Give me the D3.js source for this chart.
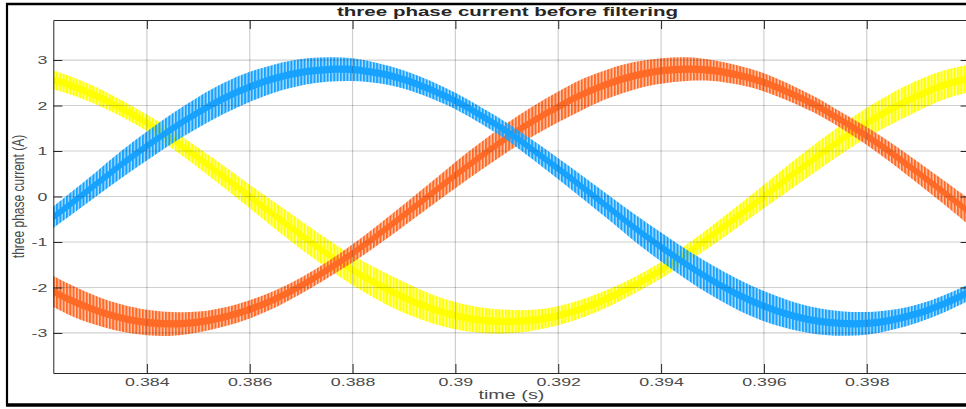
<!DOCTYPE html>
<html><head><meta charset="utf-8">
<script src="https://cdn.jsdelivr.net/npm/d3@7"></script>
<style>html,body{margin:0;padding:0;background:#fff;} svg{display:block;}</style>
</head><body>
<svg id="chart" width="966" height="409"></svg>
<script>
// ---- data ----
const timeS = [0.3820,0.3825,0.3830,0.3835,0.3840,0.3845,0.3850,0.3855,0.3860,0.3865,
  0.3870,0.3875,0.3880,0.3885,0.3890,0.3895,0.3900,0.3905,0.3910,0.3915,
  0.3920,0.3925,0.3930,0.3935,0.3940,0.3945,0.3950,0.3955,0.3960,0.3965,
  0.3970,0.3975,0.3980,0.3985,0.3990,0.3995,0.4000];
const phaseYellow = [2.62,2.45,2.22,1.94,1.62,1.25,0.85,0.43,0.00,-0.43,
  -0.85,-1.25,-1.62,-1.94,-2.22,-2.45,-2.62,-2.72,-2.75,-2.72,
  -2.62,-2.45,-2.22,-1.94,-1.62,-1.25,-0.85,-0.43,0.00,0.43,
  0.85,1.25,1.62,1.94,2.22,2.45,2.60];
const phaseBlue = [-0.61,-0.18,0.26,0.70,1.11,1.50,1.85,2.16,2.41,2.60,
  2.73,2.79,2.79,2.71,2.57,2.36,2.10,1.78,1.43,1.03,
  0.61,0.18,-0.26,-0.70,-1.11,-1.50,-1.85,-2.16,-2.41,-2.60,
  -2.73,-2.79,-2.79,-2.71,-2.57,-2.36,-2.10];
const phaseOrange = [-1.98,-2.27,-2.50,-2.67,-2.77,-2.80,-2.76,-2.65,-2.48,-2.25,
  -1.96,-1.62,-1.25,-0.84,-0.41,0.03,0.47,0.89,1.29,1.65,
  1.97,2.26,2.49,2.66,2.76,2.80,2.77,2.67,2.51,2.28,
  2.01,1.68,1.33,0.94,0.52,0.09,-0.35];
// half-height of the switching ripple around each phase (A)
const rippleYellow = [0.21,0.20,0.19,0.18,0.18,0.20,0.22,0.24,0.26,0.29,
  0.31,0.32,0.33,0.34,0.34,0.32,0.30,0.28,0.26,0.23,
  0.21,0.20,0.19,0.18,0.18,0.20,0.22,0.24,0.26,0.29,
  0.31,0.32,0.33,0.34,0.34,0.32,0.30];
const rippleBlue = [0.23,0.25,0.27,0.30,0.32,0.33,0.34,0.34,0.33,0.31,
  0.29,0.27,0.25,0.22,0.20,0.19,0.18,0.18,0.19,0.21,
  0.23,0.25,0.27,0.30,0.32,0.33,0.34,0.34,0.33,0.31,
  0.29,0.27,0.25,0.22,0.20,0.19,0.18];
const rippleOrange = [0.34,0.34,0.32,0.30,0.28,0.26,0.23,0.21,0.20,0.19,
  0.18,0.18,0.20,0.22,0.24,0.26,0.29,0.31,0.32,0.33,
  0.34,0.34,0.32,0.30,0.28,0.26,0.23,0.21,0.20,0.19,
  0.18,0.18,0.20,0.22,0.24,0.26,0.29];
const seriesNames = ["yellow","orange","blue"];
const seriesColors = ["#FFFF00","#FF6A26","#17A2FF"];
const xTickValues = [0.384,0.386,0.388,0.390,0.392,0.394,0.396,0.398];
const xTickLabels = ["0.384","0.386","0.388","0.39","0.392","0.394","0.396","0.398"];
const yTickValues = [-3,-2,-1,0,1,2,3];
const yTickLabels = ["-3","-2","-1","0","1","2","3"];
const titleText = "three phase current before filtering";
const xLabelText = "time (s)";
const yLabelText = "three phase current (A)";

// ---- layout ----
const svg = d3.select("#chart");
const L = 53.3, R = 969.6, T = 20, B = 373;
const x = d3.scaleLinear().domain([0.38218, 0.4]).range([L, R]);
const y = d3.scaleLinear().domain([-3.88, 3.88]).range([B, T]);
const axisColor = "#262626";
const labelColor = "#4a4a4a";
const stretch = 1.62;

svg.append("rect").attr("width",966).attr("height",409).attr("fill","#fff");

const defs = svg.append("defs");
defs.append("clipPath").attr("id","plotclip").append("rect")
  .attr("x",L).attr("y",T).attr("width",R-L).attr("height",B-T);
seriesNames.forEach((n,i)=>{
  const p = defs.append("pattern").attr("id","stripe-"+n)
    .attr("patternUnits","userSpaceOnUse").attr("width",3.3).attr("height",4);
  p.append("rect").attr("width",3.3).attr("height",4).attr("fill",seriesColors[i]).attr("opacity",0.35);
  p.append("rect").attr("width",2.0).attr("height",4).attr("fill",seriesColors[i]);
});

// ---- data bands ----
const values = {yellow: phaseYellow, orange: phaseOrange, blue: phaseBlue};
const ripples = {yellow: rippleYellow, orange: rippleOrange, blue: rippleBlue};
const plot = svg.append("g").attr("clip-path","url(#plotclip)");
seriesNames.forEach((n,i)=>{
  const v = values[n], r = ripples[n];
  const idx = d3.range(timeS.length);
  const outer = d3.area().curve(d3.curveCatmullRom)
    .x(k=>x(timeS[k])).y0(k=>y(v[k]-r[k])).y1(k=>y(v[k]+r[k]));
  const inner = d3.area().curve(d3.curveCatmullRom)
    .x(k=>x(timeS[k])).y0(k=>y(v[k]-0.08)).y1(k=>y(v[k]+0.08));
  plot.append("path").attr("d",outer(idx)).attr("fill","url(#stripe-"+n+")");
  plot.append("path").attr("d",inner(idx)).attr("fill",seriesColors[i]);
});

// ---- grid (drawn over the data, translucent) ----
const grid = svg.append("g").attr("stroke","rgba(38,38,38,0.22)").attr("stroke-width",1.2);
xTickValues.forEach(t=>grid.append("line").attr("x1",x(t)).attr("x2",x(t)).attr("y1",T).attr("y2",B));
yTickValues.forEach(t=>grid.append("line").attr("y1",y(t)).attr("y2",y(t)).attr("x1",L).attr("x2",R));

// ---- axes ----
const fontFam = "'Liberation Sans', Arial, Helvetica, sans-serif";
const xAxis = d3.axisBottom(x).tickValues(xTickValues).tickSizeInner(-9).tickSizeOuter(0)
  .tickFormat((d,i)=>xTickLabels[i]).tickPadding(5.7);
const gx = svg.append("g").attr("transform",`translate(0,${B})`).call(xAxis);
const xTop = d3.axisTop(x).tickValues(xTickValues).tickSizeInner(-9).tickSizeOuter(0).tickFormat("");
const gxt = svg.append("g").attr("transform",`translate(0,${T})`).call(xTop);
const yAxis = d3.axisLeft(y).tickValues(yTickValues).tickSizeInner(-9).tickSizeOuter(0)
  .tickFormat((d,i)=>yTickLabels[i]).tickPadding(0);
const gy = svg.append("g").attr("transform",`translate(${L},0)`).call(yAxis);
const yRight = d3.axisRight(y).tickValues(yTickValues).tickSizeInner(-9).tickSizeOuter(0).tickFormat("");
const gyr = svg.append("g").attr("transform",`translate(${R},0)`).call(yRight);
[gx,gxt,gy,gyr].forEach(g=>{
  g.select(".domain").attr("stroke",axisColor).attr("stroke-width",1);
  g.selectAll(".tick line").attr("stroke",axisColor).attr("stroke-width",1);
  g.selectAll("text").attr("fill",labelColor).attr("font-family",fontFam).attr("font-size",11);
});
gx.selectAll(".tick text").attr("transform",`scale(${stretch},1)`);
gy.selectAll(".tick text").attr("x",0).attr("text-anchor","end")
  .attr("transform",`translate(-6,0) scale(${stretch},1)`);

// ---- labels ----
svg.append("text").attr("transform",`translate(507.5,15.5)`)
  .attr("text-anchor","middle").attr("font-family",fontFam).attr("font-weight","bold")
  .attr("font-size",13).attr("fill","#262626")
  .attr("textLength",341).attr("lengthAdjust","spacingAndGlyphs").text(titleText);
svg.append("text").attr("transform",`translate(${(L+R)/2},399) scale(1.65,1)`)
  .attr("text-anchor","middle").attr("font-family",fontFam).attr("font-size",12)
  .attr("fill",labelColor).text(xLabelText);
svg.append("text").attr("transform",`translate(24,${(T+B)/2}) scale(1.35,1) rotate(-90)`)
  .attr("text-anchor","middle").attr("font-family",fontFam).attr("font-size",12)
  .attr("fill",labelColor).text(yLabelText);

// ---- outer black frame ----
const frame = svg.append("g").attr("stroke","#000");
frame.append("line").attr("x1",7).attr("x2",7).attr("y1",3).attr("y2",406).attr("stroke-width",2.2);
frame.append("line").attr("x1",6).attr("x2",966).attr("y1",4).attr("y2",4).attr("stroke-width",2.6);
frame.append("line").attr("x1",6).attr("x2",966).attr("y1",405).attr("y2",405).attr("stroke-width",3.4);
</script>
</body></html>
